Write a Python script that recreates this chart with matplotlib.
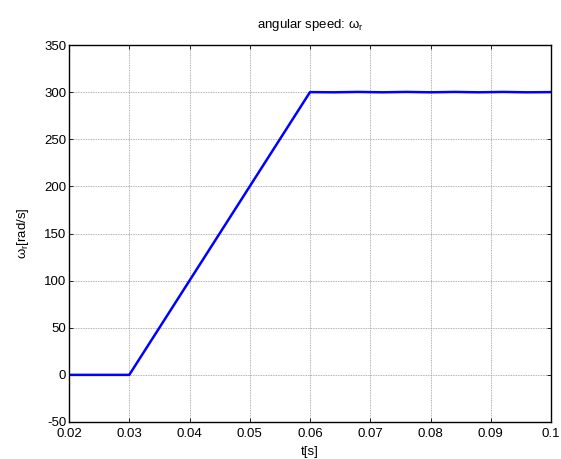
import matplotlib
matplotlib.use("Agg")
import matplotlib.pyplot as plt

plt.rcParams['font.family'] = ['Liberation Sans', 'DejaVu Sans']
plt.rcParams['mathtext.fontset'] = 'custom'
plt.rcParams['mathtext.rm'] = 'Liberation Sans'
plt.rcParams['mathtext.it'] = 'Liberation Sans'
plt.rcParams['axes.unicode_minus'] = False

# data
t = [0.02, 0.03, 0.06, 0.064, 0.068, 0.072, 0.076, 0.08, 0.084, 0.088, 0.092, 0.096, 0.1]
w = [0.0, 0.0, 300.0, 299.8, 300.2, 299.8, 300.2, 299.8, 300.2, 299.8, 300.2, 299.8, 300.0]

xticks = [0.02, 0.03, 0.04, 0.05, 0.06, 0.07, 0.08, 0.09, 0.1]
xticklabels = ['0.02', '0.03', '0.04', '0.05', '0.06', '0.07', '0.08', '0.09', '0.1']
yticks = [-50, 0, 50, 100, 150, 200, 250, 300, 350]

fig = plt.figure(figsize=(5.61, 4.59), dpi=100)
ax = fig.add_axes([69/561, 1-422/459, 482/561, 377/459])
ax.plot(t, w, color='#0000ff', lw=1.8)
ax.set_xlim(0.02, 0.1)
ax.set_ylim(-50, 350)
ax.set_xticks(xticks)
ax.set_xticklabels(xticklabels)
ax.set_yticks(yticks)
ax.grid(True, color='#999999', linestyle=(0, (1, 1)), lw=0.6)
ax.tick_params(direction='in', labelsize=9.5, length=3, width=0.6, top=True, right=True)
ax.tick_params(axis='x', pad=4)
ax.tick_params(axis='y', pad=2)
for s in ax.spines.values():
    s.set_linewidth(1.0)
ax.set_title(r'angular speed: $\omega_{\rm r}$', fontsize=9.5, pad=12)
ax.set_xlabel('t[s]', fontsize=9.5, labelpad=5)
ax.set_ylabel(r'$\omega_{\rm r}$[rad/s]', fontsize=9.5, labelpad=9)
fig.savefig('out.png', dpi=100, facecolor='white')
